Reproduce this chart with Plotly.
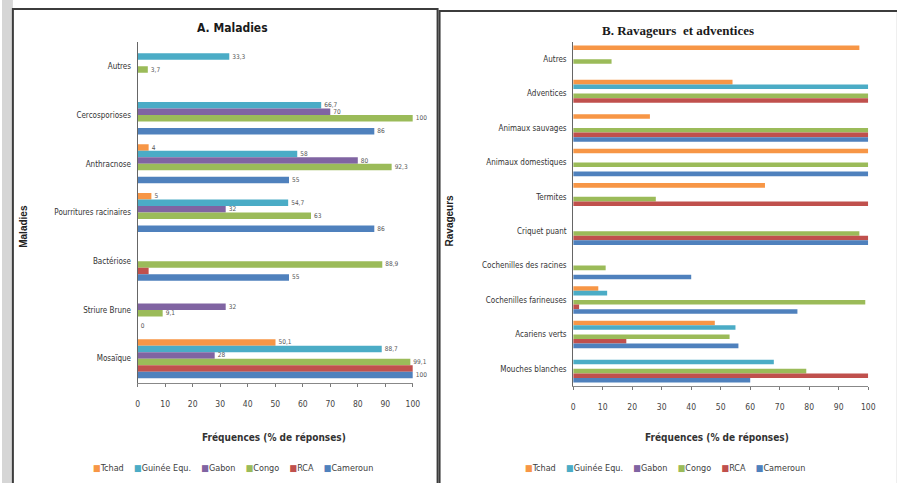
import plotly.graph_objects as go

# ---- data -------------------------------------------------------------
pays = ["Tchad", "Guinée Equ.", "Gabon", "Congo", "RCA", "Cameroun"]
couleurs = ["#F79646", "#4BACC6", "#8064A2", "#9BBB59", "#C0504D", "#4F81BD"]

maladies = ["Autres", "Cercosporioses", "Anthracnose", "Pourritures racinaires",
            "Bactériose", "Striure Brune", "Mosaïque"]
mal_tchad = [None, None, 4, 5, None, None, 50.1]
mal_guinee = [33.3, 66.7, 58, 54.7, None, None, 88.7]
mal_gabon = [None, 70, 80, 32, None, 32, 28]
mal_congo = [3.7, 100, 92.3, 63, 88.9, 9.1, 99.1]
mal_rca = [None, None, None, None, 4, None, 100]
mal_cameroun = [None, 86, 55, 86, 55, 0, 100]
# series whose values are printed next to the bars
mal_etiquettes = [True, True, True, True, False, True]

ravageurs = ["Autres", "Adventices", "Animaux sauvages", "Animaux domestiques",
             "Termites", "Criquet puant", "Cochenilles des racines",
             "Cochenilles farineuses", "Acariens verts", "Mouches blanches"]
rav_tchad = [97, 54, 26, 100, 65, None, None, 8.5, 48, None]
rav_guinee = [None, 100, None, None, None, None, None, 11.5, 55, 68]
rav_gabon = [None] * 10
rav_congo = [13, 100, 100, 100, 28, 97, 11, 99, 53, 79]
rav_rca = [None, 100, 100, None, 100, 100, None, 2, 18, 100]
rav_cameroun = [None, None, 100, 100, None, 100, 40, 76, 56, 60]

ticks_x = list(range(0, 101, 10))

# ---- helpers ------------------------------------------------------------
W, H = 897, 483
NARROW = "Liberation Sans Narrow, Arial Narrow, DejaVu Sans Condensed, sans-serif"


def fx(p):
    return p / W


def fy(p):
    return 1 - p / H


def fmt(v):
    if v is None:
        return ""
    return f"{v:g}".replace(".", ",")


def note(text, x, y, font, angle=0):
    fig.add_annotation(text=text, x=fx(x), y=fy(y), xref="paper", yref="paper",
                       xanchor="center", yanchor="middle", showarrow=False,
                       textangle=angle, font=font)


fig = go.Figure()

series_mal = [mal_tchad, mal_guinee, mal_gabon, mal_congo, mal_rca, mal_cameroun]
for nom, coul, vals, lab in zip(pays, couleurs, series_mal, mal_etiquettes):
    fig.add_trace(go.Bar(
        y=maladies, x=vals, orientation="h", name=nom,
        marker=dict(color=coul, line=dict(width=0)),
        text=[fmt(v) if lab else "" for v in vals],
        textposition="outside", cliponaxis=False, constraintext="none",
        textfont=dict(family=NARROW, size=6.5, color="#555555"),
        xaxis="x", yaxis="y", showlegend=False, hoverinfo="x+name",
    ))

series_rav = [rav_tchad, rav_guinee, rav_gabon, rav_congo, rav_rca, rav_cameroun]
for nom, coul, vals in zip(pays, couleurs, series_rav):
    fig.add_trace(go.Bar(
        y=ravageurs, x=vals, orientation="h", name=nom,
        marker=dict(color=coul, line=dict(width=0)),
        xaxis="x2", yaxis="y2", showlegend=False, hoverinfo="x+name",
    ))

xcommon = dict(range=[0, 100], tickvals=ticks_x, ticks="outside", ticklen=3,
               tickcolor="#777777", showline=True, linecolor="#888888",
               linewidth=1, showgrid=False, zeroline=False, ticklabelstandoff=10,
               tickfont=dict(family=NARROW, size=8.5, color="#444444"))
ycommon = dict(autorange="reversed", categoryorder="array", showline=True,
               linecolor="#666666", linewidth=1, ticks="", showgrid=False,
               ticklabelstandoff=4,
               tickfont=dict(family=NARROW, size=8, color="#333333"))

fig.update_layout(
    width=W, height=H, margin=dict(l=0, r=0, t=0, b=0),
    paper_bgcolor="white", plot_bgcolor="white",
    barmode="group", bargap=0.2, bargroupgap=0,
    xaxis=dict(domain=[fx(137), fx(415)], anchor="y", **xcommon),
    yaxis=dict(domain=[fy(383), fy(42)], anchor="x",
               categoryarray=maladies, **ycommon),
    xaxis2=dict(domain=[fx(577), fx(875)], anchor="y2", **xcommon),
    yaxis2=dict(domain=[fy(386), fy(42)], anchor="x2",
                categoryarray=ravageurs, **ycommon),
)

# panel frames and the grey strip on the left edge
fig.add_shape(type="rect", xref="paper", yref="paper", x0=0, x1=fx(11),
              y0=0, y1=1, fillcolor="#d6d6d6", line=dict(width=0), layer="below")
fig.add_shape(type="rect", xref="paper", yref="paper", x0=fx(11), x1=fx(440),
              y0=fy(492), y1=fy(9), line=dict(color="#3c3c3c", width=2))
fig.add_shape(type="rect", xref="paper", yref="paper", x0=fx(442), x1=fx(905),
              y0=fy(492), y1=fy(11), line=dict(color="#3c3c3c", width=2))

# titles
note("<b>A. Maladies</b>", 233, 28, dict(family=NARROW, size=12, color="#1a1a1a"))
note("<b>B. Ravageurs\u00a0 et adventices</b>", 683, 30,
     dict(family="Liberation Serif, serif", size=13, color="#1a1a1a"))

for cx in (275, 722):
    note("<b>Fréquences (% de réponses)</b>", cx, 437,
         dict(family=NARROW, size=10, color="#333333"))

note("<b>Maladies</b>", 22, 226,
     dict(family="Liberation Sans, sans-serif", size=10, color="#222222"), -90)
note("<b>Ravageurs</b>", 452, 220,
     dict(family="Liberation Sans, sans-serif", size=10, color="#222222"), -90)

# legends (one per panel)
legende = "\u00a0\u00a0\u00a0\u00a0".join(
    f"<span style='color:{c}'>■</span>{n}" for n, c in zip(pays, couleurs))
for cx in (233, 670):
    note(legende, cx, 468, dict(family=NARROW, size=9, color="#404040"))

fig.write_html("out.html")
